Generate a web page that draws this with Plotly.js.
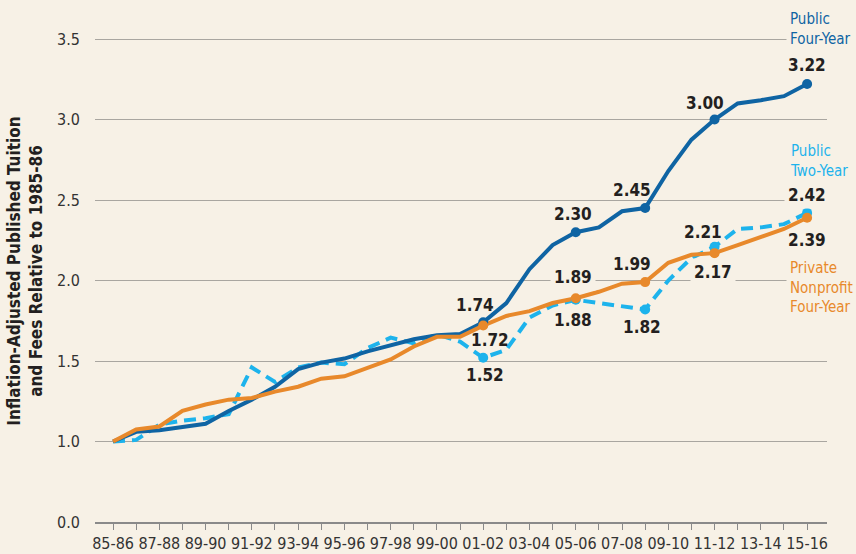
<!DOCTYPE html>
<html>
<head>
<meta charset="utf-8">
<script src="https://cdn.plot.ly/plotly-3.0.1.min.js"></script>
<style>
html,body{margin:0;padding:0;background:#f7f1e6;}
#chart{width:856px;height:554px;}
</style>
</head>
<body>
<div id="chart"></div>
<script>
const years = ["85-86","86-87","87-88","88-89","89-90","90-91","91-92","92-93","93-94","94-95","95-96","96-97","97-98","98-99","99-00","00-01","01-02","02-03","03-04","04-05","05-06","06-07","07-08","08-09","09-10","10-11","11-12","12-13","13-14","14-15","15-16"];
const publicFour = [1.00,1.06,1.07,1.09,1.11,1.19,1.26,1.34,1.45,1.49,1.515,1.56,1.60,1.635,1.66,1.667,1.74,1.86,2.07,2.22,2.30,2.33,2.43,2.45,2.68,2.875,3.00,3.10,3.12,3.145,3.22];
const publicTwo = [1.00,1.01,1.105,1.13,1.145,1.17,1.46,1.37,1.46,1.49,1.48,1.58,1.645,1.61,1.665,1.62,1.52,1.57,1.77,1.845,1.88,1.86,1.84,1.82,2.00,2.14,2.21,2.32,2.33,2.35,2.42];
const privateNP = [1.00,1.075,1.093,1.19,1.23,1.26,1.27,1.31,1.34,1.39,1.405,1.46,1.51,1.59,1.65,1.65,1.72,1.78,1.81,1.86,1.89,1.93,1.98,1.99,2.11,2.16,2.17,2.22,2.27,2.32,2.39];
const highlightIdx = [16,20,23,26,30];
const yTickVals = [0.5,1,1.5,2,2.5,3,3.5];
const yTickText = ["0.0","1.0","1.5","2.0","2.5","3.0","3.5"];
const xTickText = years.map((y,i)=> i%2===0 ? y : "");

const BG = "#f7f1e6";
const C_FOUR = "#0f64a3";
const C_TWO = "#1db3ec";
const C_PNP = "#e8892b";
const TXT = "#231f20";
const FONT = "'Liberation Sans Narrow','Arial Narrow','DejaVu Sans Condensed',Roboto,sans-serif";

function hl(arr){ return { x: highlightIdx.map(i=>years[i]), y: highlightIdx.map(i=>arr[i]) }; }

const traces = [
  {x: years, y: publicTwo, mode:"lines", line:{color:C_TWO, width:4, dash:"12px,7px"}, hoverinfo:"skip"},
  {x: years, y: publicFour, mode:"lines", line:{color:C_FOUR, width:4}, hoverinfo:"skip"},
  {x: years, y: privateNP, mode:"lines", line:{color:C_PNP, width:4}, hoverinfo:"skip"},
  Object.assign({mode:"markers", marker:{color:C_TWO, size:10}, hoverinfo:"skip"}, hl(publicTwo)),
  Object.assign({mode:"markers", marker:{color:C_FOUR, size:10}, hoverinfo:"skip"}, hl(publicFour)),
  Object.assign({mode:"markers", marker:{color:C_PNP, size:10}, hoverinfo:"skip"}, hl(privateNP))
];

// value labels: [series, index, xshift, yshift, coversGrid]
const labelSpecs = [
  [publicFour,16,-8,17,false],[publicFour,20,-3,18,false],[publicFour,23,-13,18,false],[publicFour,26,-10,17,false],[publicFour,30,0,19,false],
  [privateNP,16,7,-14,false],[privateNP,20,-3,21,true],[privateNP,23,-13,18,false],[privateNP,26,-2,-19,true],[privateNP,30,0,-22,false],
  [publicTwo,16,2,-17,false],[publicTwo,20,-3,-20,false],[publicTwo,23,-3,-18,false],[publicTwo,26,-12,15,false],[publicTwo,30,0,18,true]
];
const annotations = labelSpecs.map(s=>({
  x: years[s[1]], y: s[0][s[1]], xref:"x", yref:"y", showarrow:false,
  text: "<b>"+s[0][s[1]].toFixed(2)+"</b>", xshift:s[2], yshift:s[3],
  font:{family:FONT, size:17, color:TXT}, bgcolor: s[4] ? BG : "rgba(0,0,0,0)", borderpad: s[4] ? 3 : 0
}));
const seriesLabels = [
  {text:"Public<br>Four-Year", color:C_FOUR, y:29},
  {text:"Public<br>Two-Year", color:C_TWO, y:161},
  {text:"Private<br>Nonprofit<br>Four-Year", color:C_PNP, y:287}
];
seriesLabels.forEach(s=>annotations.push({
  xref:"paper", yref:"paper", x:(786-95)/732, xanchor:"left",
  y: 1-(s.y-20)/502, yanchor:"middle", showarrow:false, align:"left",
  text:s.text, font:{family:FONT, size:15, color:s.color}, bgcolor:BG, borderpad:3
}));

const layout = {
  width:856, height:554,
  paper_bgcolor:BG, plot_bgcolor:BG,
  showlegend:false,
  margin:{l:95, r:29, t:20, b:32},
  xaxis:{
    type:"category", range:[-0.78,30.86], tickmode:"array", tickvals:years, ticktext:xTickText,
    showgrid:false, zeroline:false, showline:true, linecolor:"#8a8a8a", linewidth:1.5,
    ticks:"outside", ticklen:6, tickcolor:"#8a8a8a", tickwidth:1,
    tickfont:{family:FONT, size:16, color:"#333"}, fixedrange:true
  },
  yaxis:{
    range:[0.5,3.618], tickmode:"array", tickvals:yTickVals, ticktext:yTickText,
    showgrid:true, gridcolor:"#a9a6a0", gridwidth:1, zeroline:false, showline:false,
    ticks:"", ticklabelstandoff:14,
    tickfont:{family:FONT, size:16, color:"#333"},
    title:{text:"<b>Inflation-Adjusted Published Tuition<br>and Fees Relative to 1985-86</b>", font:{family:FONT, size:17, color:TXT}, standoff:10},
    fixedrange:true
  },
  annotations: annotations
};
Plotly.newPlot("chart", traces, layout, {displayModeBar:false, staticPlot:true});
</script>
</body>
</html>
